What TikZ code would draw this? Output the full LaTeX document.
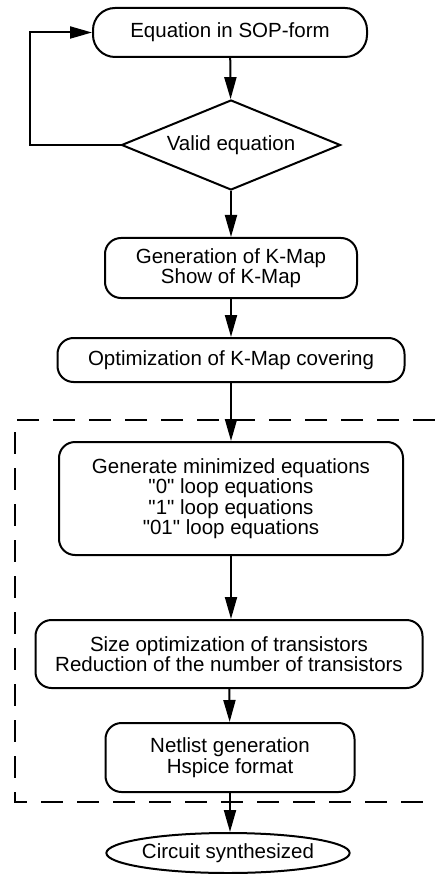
\documentclass[tikz,border=0pt]{standalone}
\usepackage{fontspec}
\setmainfont{Liberation Sans}
\usetikzlibrary{shapes.geometric,arrows.meta}
\begin{document}
\begin{tikzpicture}[x=1pt,y=-1pt,
  every node/.style={font=\fontsize{20.5}{20.5}\selectfont, align=center, inner sep=0pt},
  proc/.style={draw, rounded corners=16pt, line width=2pt},
  arr/.style={-{Triangle[length=22pt,width=12pt]}, line width=2pt},
  grp/.style={dash pattern=on 22pt off 14pt, line width=2pt}]
\useasboundingbox (0,0) rectangle (435,874);
\node[proc, rounded corners=22pt, minimum width=274pt, minimum height=49pt] (b1) at (230,32.5) {Equation in SOP-form};
\node[draw, diamond, line width=2pt, minimum width=219pt, minimum height=90pt, aspect=2.43] (d) at (231,145) {Valid equation};
\node[proc, minimum width=252pt, minimum height=60pt] (b2) at (231,268) {Generation of K-Map\\Show of K-Map};
\node[proc, minimum width=347pt, minimum height=44pt] (b3) at (231,360) {Optimization of K-Map covering};
\node[proc, minimum width=344pt, minimum height=113pt] (b4) at (231,498.5) {Generate minimized equations\\\textquotedbl0\textquotedbl{} loop equations\\\textquotedbl1\textquotedbl{} loop equations\\\textquotedbl01\textquotedbl{} loop equations};
\node[proc, minimum width=387pt, minimum height=68pt] (b5) at (229,654) {Size optimization of transistors\\Reduction of the number of transistors};
\node[proc, minimum width=249pt, minimum height=69pt] (b6) at (230,757.5) {Netlist generation\\Hspice format};
\node[draw, ellipse, line width=2pt, minimum width=219pt, minimum height=40pt] (e) at (228,853) {Circuit synthesized};
\draw[grp] (435,420) -- (15,420) -- (15,802) -- (435,802);
\draw[arr] (b1) -- (d);
\draw[arr] (d.west) -- ++(-91,0) |- (b1.west);
\draw[arr] (d) -- (b2);
\draw[arr] (b2) -- (b3);
\draw[arr] (b3) -- (b4);
\draw[arr] (b4) -- (b4 |- b5.north);
\draw[arr] (b5) -- (b6);
\draw[arr] (b6) -- (b6 |- e.north);
\end{tikzpicture}
\end{document}
